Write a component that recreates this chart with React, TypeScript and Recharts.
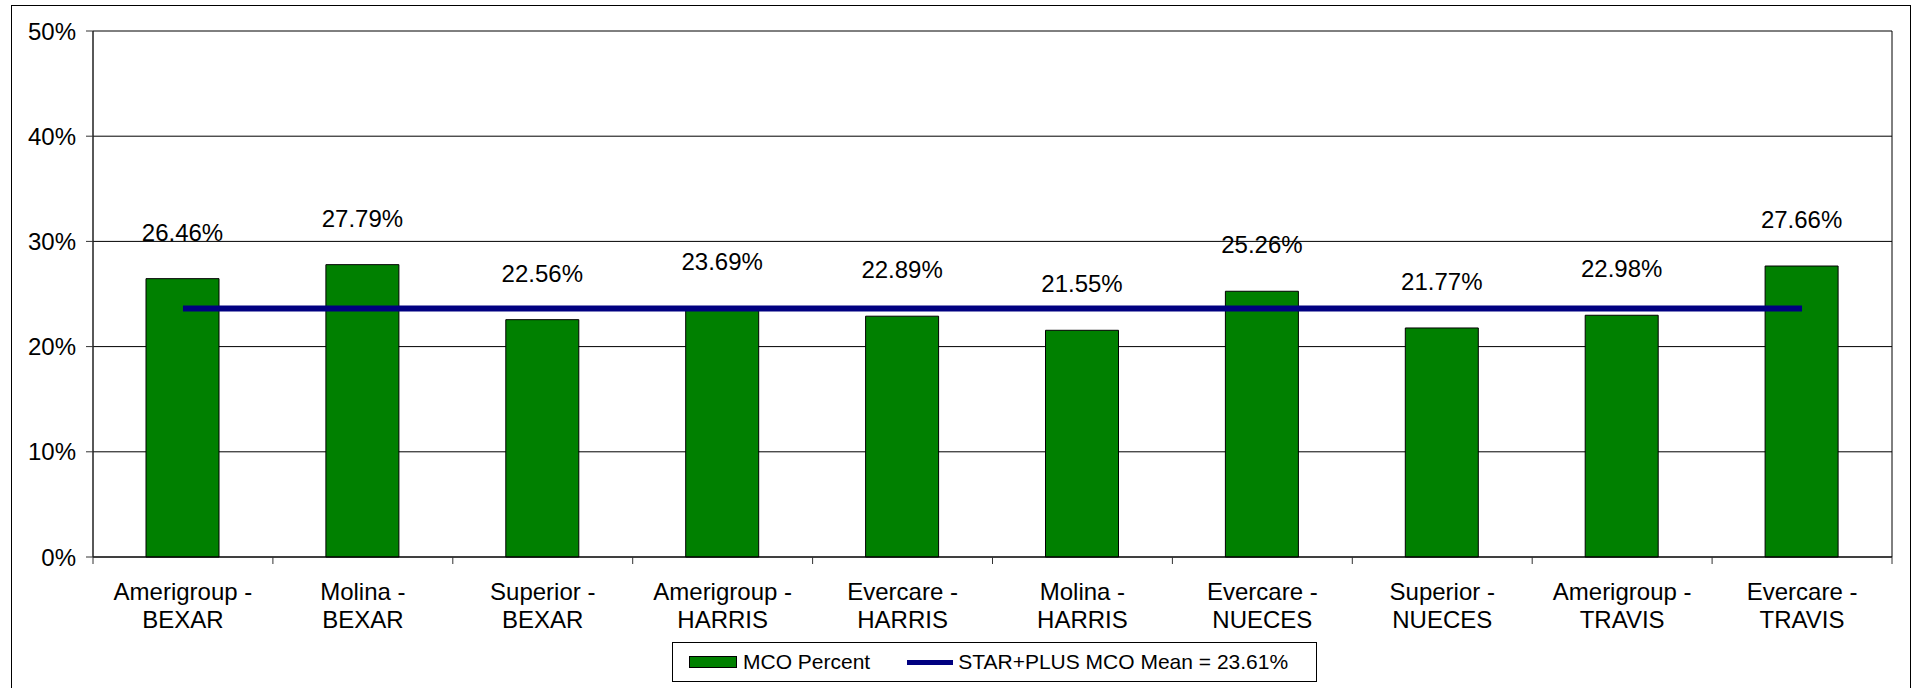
import React from "react";
import {
  Bar,
  CartesianGrid,
  ComposedChart,
  LabelList,
  Legend,
  Line,
  XAxis,
  YAxis,
} from "recharts";

const categories = [
  "Amerigroup - BEXAR",
  "Molina - BEXAR",
  "Superior - BEXAR",
  "Amerigroup - HARRIS",
  "Evercare - HARRIS",
  "Molina - HARRIS",
  "Evercare - NUECES",
  "Superior - NUECES",
  "Amerigroup - TRAVIS",
  "Evercare - TRAVIS",
];

const mcoPercent = [26.46, 27.79, 22.56, 23.69, 22.89, 21.55, 25.26, 21.77, 22.98, 27.66];

const meanPercent = [23.61, 23.61, 23.61, 23.61, 23.61, 23.61, 23.61, 23.61, 23.61, 23.61];

const yTicks = [0, 10, 20, 30, 40, 50];

const data = categories.map((name, i) => ({
  name,
  mco: mcoPercent[i],
  mean: meanPercent[i],
}));

const FONT = "'Liberation Sans', Arial, sans-serif";
const WIDTH = 1915;
const HEIGHT = 688;
const PLOT_LEFT = 93;
const PLOT_RIGHT = 1892;
const BAND = (PLOT_RIGHT - PLOT_LEFT) / categories.length;

function CategoryTick(props: any) {
  const { x, y, payload, index } = props;
  const [first, second] = String(payload.value).split(" - ");
  const left = x - BAND / 2;
  const isLast = index === categories.length - 1;
  return (
    <g>
      <line x1={left} y1={y} x2={left} y2={y + 7} stroke="#333" />
      {isLast && <line x1={x + BAND / 2} y1={y} x2={x + BAND / 2} y2={y + 7} stroke="#333" />}
      <text x={x} y={y + 43} textAnchor="middle" fontSize={24} fontFamily={FONT} fill="#000">
        <tspan x={x}>{first} -</tspan>
        <tspan x={x} dy={28}>
          {second}
        </tspan>
      </text>
    </g>
  );
}

function ValueLabel(props: any) {
  const { x, y, width, value } = props;
  return (
    <text
      x={x + width / 2}
      y={y - 38}
      textAnchor="middle"
      fontSize={24}
      fontFamily={FONT}
      fill="#000"
    >
      {`${Number(value).toFixed(2)}%`}
    </text>
  );
}

function LegendBox(props: any) {
  const items = props.payload || [];
  const bar = items.find((p: any) => p.dataKey === "mco");
  const line = items.find((p: any) => p.dataKey === "mean");
  return (
    <div
      style={{
        width: 645,
        height: 40,
        boxSizing: "border-box",
        border: "1px solid #000",
        display: "flex",
        alignItems: "center",
        fontFamily: FONT,
        fontSize: 21,
        color: "#000",
        background: "#fff",
      }}
    >
      <span
        style={{
          marginLeft: 16,
          width: 48,
          height: 12,
          boxSizing: "border-box",
          background: "#008000",
          border: "1px solid #000",
        }}
      />
      <span style={{ marginLeft: 6 }}>{bar ? bar.value : ""}</span>
      <span style={{ marginLeft: 37, width: 46, height: 5, background: "#000080" }} />
      <span style={{ marginLeft: 5 }}>{line ? line.value : ""}</span>
    </div>
  );
}

export default function App() {
  return (
    <div
      style={{
        position: "absolute",
        left: 0,
        top: 0,
        width: WIDTH,
        height: HEIGHT,
        overflow: "hidden",
        background: "#fff",
      }}
    >
      <div
        style={{
          position: "absolute",
          left: 11,
          top: 5,
          width: 1900,
          height: 700,
          boxSizing: "border-box",
          border: "1px solid #000",
          pointerEvents: "none",
        }}
      />
      <ComposedChart
        width={WIDTH}
        height={HEIGHT}
        data={data}
        margin={{ top: 31, right: WIDTH - PLOT_RIGHT, left: 8, bottom: 0 }}
      >
        <CartesianGrid
          stroke="#000"
          verticalCoordinatesGenerator={({ offset }: any) => [
            offset.left,
            offset.left + offset.width,
          ]}
        />
        <XAxis
          dataKey="name"
          height={131}
          axisLine={{ stroke: "#000" }}
          tickLine={false}
          tickSize={0}
          tickMargin={0}
          interval={0}
          tick={<CategoryTick />}
        />
        <YAxis
          width={85}
          domain={[0, 50]}
          ticks={yTicks}
          tickFormatter={(v: number): string => `${v}%`}
          axisLine={{ stroke: "#333" }}
          tickLine={{ stroke: "#333" }}
          tickSize={7}
          tickMargin={10}
          tick={{ fontSize: 24, fontFamily: FONT, fill: "#000" }}
        />
        <Bar
          dataKey="mco"
          name="MCO Percent"
          fill="#008000"
          stroke="#000"
          strokeWidth={1}
          barSize={73}
          isAnimationActive={false}
        >
          <LabelList dataKey="mco" content={<ValueLabel />} />
        </Bar>
        <Line
          dataKey="mean"
          name="STAR+PLUS MCO Mean = 23.61%"
          stroke="#000080"
          strokeWidth={6}
          dot={false}
          activeDot={false}
          type="linear"
          isAnimationActive={false}
        />
        <Legend
          verticalAlign="middle"
          align="center"
          content={<LegendBox />}
          wrapperStyle={{ left: 672, top: 642, width: 645, height: 40 }}
        />
      </ComposedChart>
    </div>
  );
}
